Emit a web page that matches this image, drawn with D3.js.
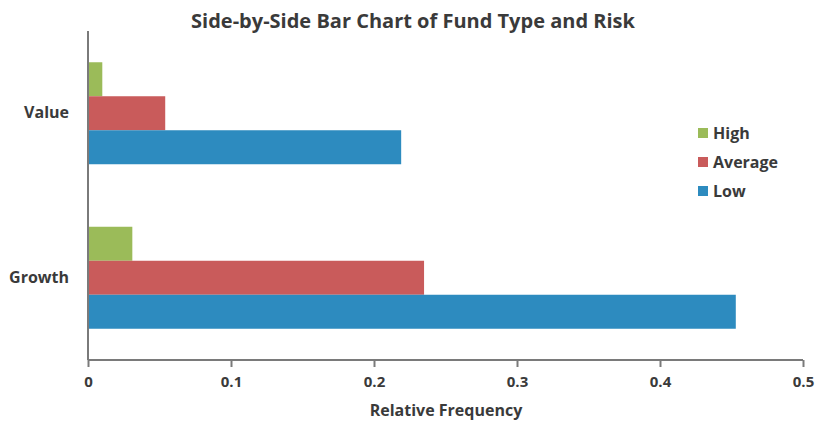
<!DOCTYPE html>
<html>
<head>
<meta charset="utf-8">
<script src="https://cdn.jsdelivr.net/npm/d3@7"></script>
<style>
  html, body { margin: 0; padding: 0; background: #fff; }
  svg { display: block; font-family: "Open Sans", "Liberation Sans", sans-serif; }
</style>
</head>
<body>
<svg id="chart" width="821" height="421"></svg>
<script>
// Fund types (top to bottom) and risk levels within each group
const fundTypes = ["Value", "Growth"];
const riskLevels = ["High", "Average", "Low"];

// Relative frequency for each risk level, in fundTypes order
const highValues = [0.01, 0.031];
const averageValues = [0.054, 0.235];
const lowValues = [0.219, 0.453];

const xTicks = [0, 0.1, 0.2, 0.3, 0.4, 0.5];
const riskColors = ["#9bbb59", "#c95b5b", "#2d8bbf"];

const seriesByRisk = [highValues, averageValues, lowValues];
const rows = fundTypes.map((f, i) => ({
  fund: f,
  values: riskLevels.map((r, j) => ({ risk: r, value: seriesByRisk[j][i] }))
}));

const svg = d3.select("#chart");
const plotLeft = 88, plotRight = 803, plotTop = 31, plotBottom = 360;
const textColor = "#3a3a3a";
const axisColor = "#7a7a7a";

const x = d3.scaleLinear().domain([0, 0.5]).range([plotLeft, plotRight]);
const y0 = d3.scaleBand().domain(fundTypes).range([plotTop, plotBottom])
  .paddingInner(0.38).paddingOuter(0.19);
const y1 = d3.scaleBand().domain(riskLevels).range([0, y0.bandwidth()]);
const color = d3.scaleOrdinal().domain(riskLevels).range(riskColors);

// Bars
const groups = svg.append("g").selectAll("g").data(rows).join("g")
  .attr("transform", d => `translate(0,${y0(d.fund)})`);
groups.selectAll("rect").data(d => d.values).join("rect")
  .attr("x", x(0))
  .attr("y", d => y1(d.risk))
  .attr("width", d => x(d.value) - x(0))
  .attr("height", y1.bandwidth())
  .attr("fill", d => color(d.risk));

// X axis
const xAxis = svg.append("g")
  .attr("transform", `translate(0,${plotBottom})`)
  .call(d3.axisBottom(x).tickValues(xTicks).tickFormat(d3.format("")).tickSize(7).tickPadding(9));
xAxis.select(".domain").attr("stroke", axisColor).attr("stroke-width", 2)
  .attr("d", `M${plotLeft},0H${plotRight}`);
xAxis.selectAll(".tick line").attr("stroke", axisColor).attr("stroke-width", 2);
xAxis.selectAll(".tick text")
  .attr("fill", textColor).attr("font-size", 15).attr("font-weight", "bold")
  .attr("font-family", "'Open Sans', sans-serif");

// Y axis
const yAxis = svg.append("g")
  .attr("transform", `translate(${plotLeft},0)`)
  .call(d3.axisLeft(y0).tickSize(0).tickPadding(19));
yAxis.select(".domain").attr("stroke", axisColor).attr("stroke-width", 2)
  .attr("d", `M0,${plotTop}V${plotBottom}`);
yAxis.selectAll(".tick text")
  .attr("fill", textColor).attr("font-size", 16).attr("font-weight", "bold")
  .attr("font-family", "'Open Sans', sans-serif");

// Title
svg.append("text")
  .attr("x", 413).attr("y", 28)
  .attr("text-anchor", "middle")
  .attr("font-size", 20).attr("font-weight", "bold")
  .attr("fill", textColor)
  .text("Side-by-Side Bar Chart of Fund Type and Risk");

// Axis title
svg.append("text")
  .attr("x", 446).attr("y", 416)
  .attr("text-anchor", "middle")
  .attr("font-size", 16).attr("font-weight", "bold")
  .attr("fill", textColor)
  .text("Relative Frequency");

// Legend
const legend = svg.append("g").selectAll("g").data(riskLevels).join("g")
  .attr("transform", (d, i) => `translate(698,${128 + i * 29})`);
legend.append("rect").attr("width", 10).attr("height", 10).attr("fill", d => color(d));
legend.append("text")
  .attr("x", 15).attr("y", 5).attr("dy", "0.35em")
  .attr("font-size", 16).attr("font-weight", "bold")
  .attr("fill", textColor)
  .text(d => d);
</script>
</body>
</html>
